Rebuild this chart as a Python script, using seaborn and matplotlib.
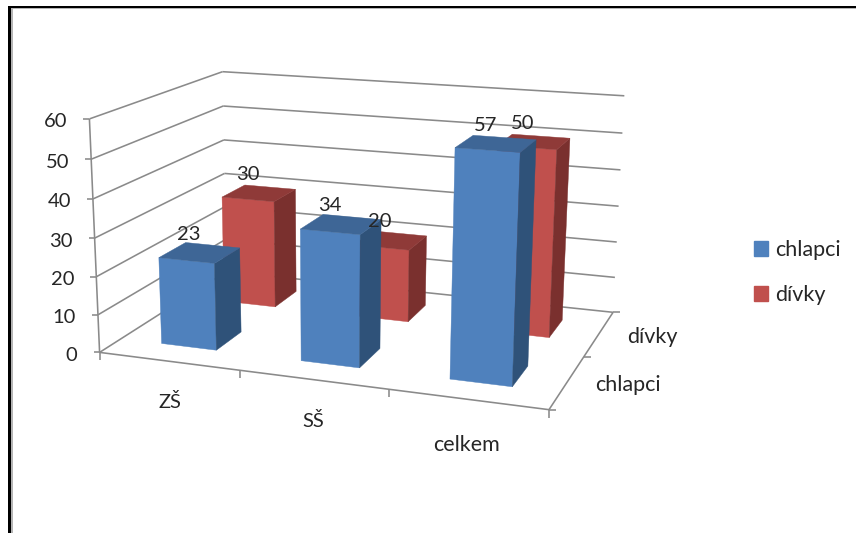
import numpy as np
import matplotlib
matplotlib.use("Agg")
import matplotlib.pyplot as plt
from matplotlib.patches import Patch, Polygon, Rectangle
import seaborn as sns

# Chart data
categories = ["ZŠ", "SŠ", "celkem"]
series_names = ["chlapci", "dívky"]
chlapci = [23, 34, 57]
divky = [30, 20, 50]
value_ticks = [0, 10, 20, 30, 40, 50, 60]

# Shades of each series: front, side, top
blue_shades = ["#4F81BD", "#2F5279", "#3E6696"]
red_shades = ["#C0504D", "#7A302E", "#8F3A38"]
axis_grey = "#8A8A8A"
text_dark = "#262626"

# Label nudges in canvas pixels
category_nudges = [(1, 41), (0, 41), (-1, 46)]
series_nudges = [(61, 3.5), (53, 3.5)]
NUMBER_SIZE = 14.5
WORD_SIZE = 15.5

sns.set_theme(style="white")
plt.rcParams["font.family"] = ["Lato", "DejaVu Sans"]

WIDTH, HEIGHT = 856, 533
fig = plt.figure(figsize=(WIDTH / 100, HEIGHT / 100), dpi=100, facecolor="white")
ax = fig.add_axes([0, 0, 1, 1])
ax.set_xlim(0, WIDTH)
ax.set_ylim(HEIGHT, 0)
ax.axis("off")

# Perspective camera, solved from where the box corners fall on the canvas.
# Box coordinates: (category position, series depth, value).
n_cat, n_depth, top = len(categories), len(series_names), max(value_ticks)
box_anchors = [
    ((0, 0, 0), (100, 352)),
    ((0, 0, top), (89, 119)),
    ((0, n_depth, 0), (226, 272)),
    ((0, n_depth, top), (223, 71.5)),
    ((n_cat, 0, 0), (549, 410)),
    ((n_cat, n_depth, 0), (613, 312)),
    ((n_cat, n_depth, top), (624, 96)),
    ((n_cat, n_depth, 30), (619, 206)),
]


def solve_camera(anchors):
    rows = []
    for (u, v, w), (x, y) in anchors:
        p = [u / n_cat, v / n_depth, w / top, 1.0]
        rows.append(p + [0, 0, 0, 0] + [-x * c for c in p])
        rows.append([0, 0, 0, 0] + p + [-y * c for c in p])
    return np.linalg.svd(np.array(rows))[2][-1].reshape(3, 4)


CAMERA = solve_camera(box_anchors)


def project(u, v, w):
    q = CAMERA @ np.array([u / n_cat, v / n_depth, w / top, 1.0])
    return q[0] / q[2], q[1] / q[2]


def seg(a, b):
    pa, pb = project(*a), project(*b)
    ax.plot([pa[0], pb[0]], [pa[1], pb[1]], color=axis_grey, lw=1.15,
            solid_capstyle="butt", zorder=2)


def tick(p, dx, dy):
    ax.plot([p[0], p[0] + dx], [p[1], p[1] + dy], color=axis_grey, lw=1.15,
            solid_capstyle="butt", zorder=2)


# Gridlines on the side and back walls, with the floor outline
for val in value_ticks:
    seg((0, 0, val), (0, n_depth, val))
    seg((0, n_depth, val), (n_cat, n_depth, val))
    tick(project(0, 0, val), -6, 0)
    ax.text(project(0, 0, val)[0] - 22, project(0, 0, val)[1] + 3, str(val),
            ha="right", va="center", fontsize=NUMBER_SIZE, color=text_dark)
seg((0, 0, 0), (0, 0, top))
seg((0, 0, 0), (n_cat, 0, 0))
seg((n_cat, 0, 0), (n_cat, n_depth, 0))

# Axis ticks along the floor
for i in range(n_cat + 1):
    tick(project(i, 0, 0), 0, 8)
for j in range(n_depth + 1):
    tick(project(n_cat, j, 0), 7, 0)

# Category and series labels under the floor
for i, name in enumerate(categories):
    x, y = project(i + 0.5, 0, 0)
    dx, dy = category_nudges[i]
    size = NUMBER_SIZE if name.isupper() else WORD_SIZE
    ax.text(x + dx, y + dy, name, ha="center", va="center",
            fontsize=size, color=text_dark)
for j, name in enumerate(series_names):
    x, y = project(n_cat, j + 0.5, 0)
    dx, dy = series_nudges[j]
    ax.text(x + dx, y + dy, name, ha="center", va="center",
            fontsize=WORD_SIZE, color=text_dark)


def draw_bar(i, j, value, shades):
    # Gap width 150 %: the bar takes the middle 40 % of its cell in both directions
    u0, u1 = i + 0.3, i + 0.7
    v0, v1 = j + 0.3, j + 0.7
    front = [(u0, v0, 0), (u1, v0, 0), (u1, v0, value), (u0, v0, value)]
    side = [(u1, v0, 0), (u1, v1, 0), (u1, v1, value), (u1, v0, value)]
    roof = [(u0, v0, value), (u1, v0, value), (u1, v1, value), (u0, v1, value)]
    for face, shade in zip((front, side, roof), shades):
        ax.add_patch(Polygon([project(*c) for c in face], closed=True,
                             facecolor=shade, edgecolor=shade, lw=0.3, zorder=3))


# Back row first so the front row covers it
series = [chlapci, divky]
shades = [blue_shades, red_shades]
for j in reversed(range(n_depth)):
    for i in range(n_cat):
        draw_bar(i, j, series[j][i], shades[j])

# Value labels above the roof of each bar
for j in range(n_depth):
    for i in range(n_cat):
        x, y = project(i + 0.5, j + 0.5, series[j][i])
        ax.text(x - 11, y - 18.5, str(series[j][i]), ha="center", va="center",
                fontsize=NUMBER_SIZE, color=text_dark, zorder=10)

# Legend on the right
handles = [Patch(facecolor=s[0], edgecolor=s[0]) for s in shades]
ax.legend(handles, series_names, loc="center left",
          bbox_to_anchor=(754 / WIDTH, 1 - 272.5 / HEIGHT), frameon=False,
          fontsize=WORD_SIZE, labelcolor=text_dark, handlelength=0.65, handleheight=0.65,
          handletextpad=0.33, labelspacing=1.16, borderpad=0, borderaxespad=0)

# Frame of the surrounding sheet, open on the right and at the bottom
ax.add_patch(Rectangle((8.5, 6), 2.5, HEIGHT, facecolor="black", lw=0, zorder=20))
ax.add_patch(Rectangle((8.5, 6), WIDTH, 2, facecolor="black", lw=0, zorder=20))
ax.add_patch(Rectangle((11, 8), 1.6, HEIGHT, facecolor="#B5B5B5", lw=0, zorder=19))
ax.add_patch(Rectangle((11, 8), WIDTH, 1.3, facecolor="#B5B5B5", lw=0, zorder=19))

fig.savefig("out.png", dpi=100, facecolor="white")
